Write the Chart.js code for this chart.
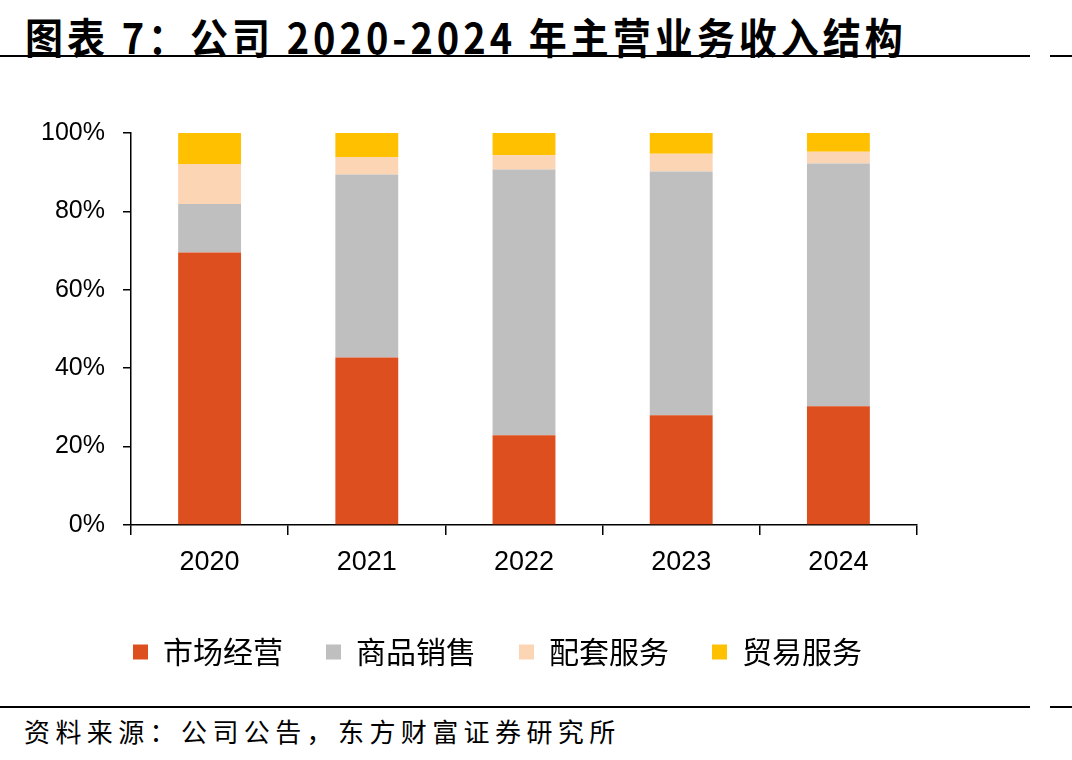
<!DOCTYPE html>
<html>
<head>
<meta charset="utf-8">
<script src="https://cdn.jsdelivr.net/npm/chart.js@4.4.1/dist/chart.umd.min.js"></script>
<style>
  body { margin: 0; background: #fff; width: 1072px; height: 760px; position: relative; overflow: hidden; font-family: "Noto Sans CJK SC", sans-serif; }
  .title { position: absolute; left: 25px; top: 6px; font-size: 38px; letter-spacing: 4px; font-weight: bold; color: #000; white-space: nowrap; transform: scaleY(1.1); transform-origin: top left; }
  .line { position: absolute; height: 2px; background: #000; }
  .source { position: absolute; left: 24px; top: 712px; font-size: 26px; letter-spacing: 5.4px; color: #000; white-space: nowrap; }
  #box { position: absolute; left: 0; top: 100px; width: 960px; height: 600px; }
</style>
</head>
<body>
<div class="title">图表 7：公司 2020-2024 年主营业务收入结构</div>
<div class="line" style="left:0; width:1030px; top:55px;"></div>
<div class="line" style="left:1050px; width:22px; top:55px;"></div>
<div id="box"><canvas id="myChart"></canvas></div>
<div class="line" style="left:0; width:1030px; top:706px;"></div>
<div class="line" style="left:1050px; width:22px; top:706px;"></div>
<div class="source">资料来源：公司公告，东方财富证券研究所</div>
<script>
// 年份
const anos = ['2020', '2021', '2022', '2023', '2024'];

// 各业务占比 (%)
const mercado = [69.5, 42.7, 22.9, 28.0, 30.3];   // 市场经营
const produtos = [12.4, 46.7, 67.8, 62.2, 61.9];  // 商品销售
const apoio = [10.2, 4.5, 3.6, 4.5, 3.0];         // 配套服务
const comercio = [7.9, 6.1, 5.7, 5.3, 4.8];       // 贸易服务

const ctx = document.getElementById('myChart');

// 图例整体右移一点，和原图对齐
const moveLegend = {
    id: 'moveLegend',
    afterLayout(chart) {
        chart.legend.left += 39;
        chart.legend.right += 39;
    }
};

const data = {
    labels: anos,
    datasets: [
        { label: '市场经营', backgroundColor: '#DE4F1F', data: mercado },
        { label: '商品销售', backgroundColor: '#BFBFBF', data: produtos },
        { label: '配套服务', backgroundColor: '#FCD5B5', data: apoio },
        { label: '贸易服务', backgroundColor: '#FFC000', data: comercio }
    ]
};

const config = {
    type: 'bar',
    data: data,
    plugins: [moveLegend],
    options: {
        responsive: true,
        maintainAspectRatio: false,
        animation: false,
        categoryPercentage: 0.4,
        barPercentage: 1.0,
        layout: { padding: { top: 28, right: 43, bottom: 23, left: 0 } },
        plugins: {
            tooltip: { enabled: false },
            legend: {
                position: 'bottom',
                labels: {
                    boxWidth: 15,
                    boxHeight: 15,
                    padding: 43,
                    color: '#000',
                    font: { family: '"Noto Sans CJK SC"', size: 30 }
                }
            }
        },
        scales: {
            x: {
                stacked: true,
                afterFit: (s) => { s.height = 69; },
                grid: { offset: true, drawOnChartArea: false, drawTicks: true, tickLength: 10, color: '#000', lineWidth: 1.5 },
                border: { color: '#000', width: 1.5 },
                ticks: { color: '#000', padding: 11, font: { family: '"Liberation Sans"', size: 27 } }
            },
            y: {
                stacked: true,
                min: 0,
                max: 100,
                afterFit: (s) => { s.width = 131; },
                grid: { drawOnChartArea: false, drawTicks: true, tickLength: 8, color: '#000', lineWidth: 1.5 },
                border: { color: '#000', width: 1.5 },
                ticks: { stepSize: 20, color: '#000', padding: 18, font: { family: '"Liberation Sans"', size: 25 }, callback: (v) => v + '%' }
            }
        }
    }
};

new Chart(ctx, config);
</script>
</body>
</html>
